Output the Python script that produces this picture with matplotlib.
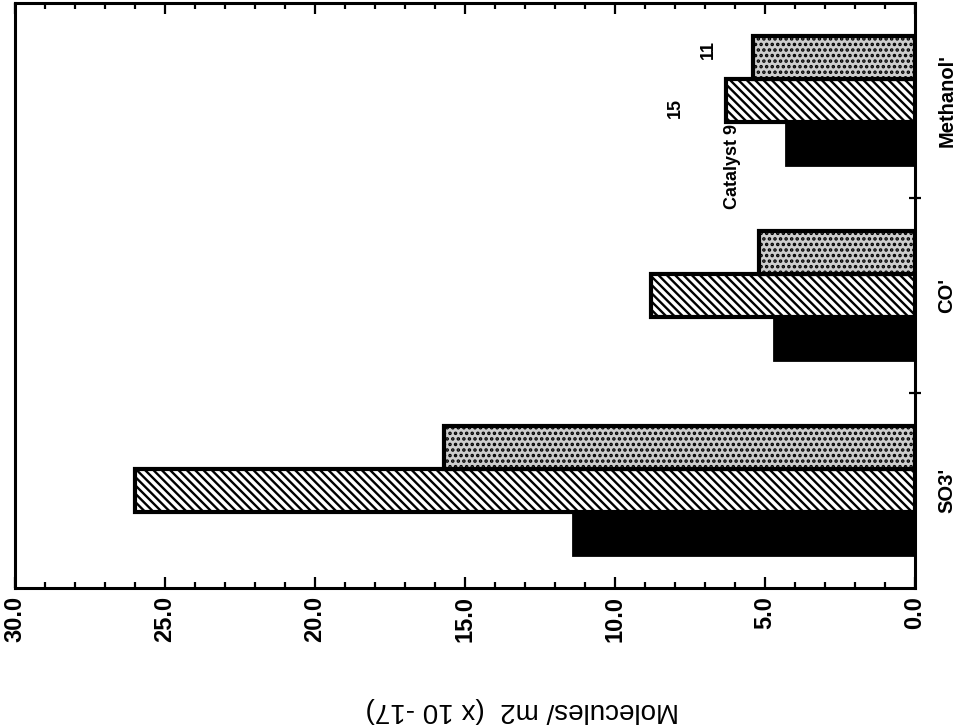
import matplotlib
matplotlib.use("Agg")
import numpy as np
import matplotlib.pyplot as plt
from matplotlib.ticker import MultipleLocator

# values (Molecules/m2 x 10^-17)
categories = ["SO3'", "CO'", "Methanol'"]
catalyst_9 = [11.4, 4.7, 4.3]
catalyst_15 = [26.0, 8.8, 6.3]
catalyst_11 = [15.7, 5.2, 5.4]
series_names = ["Catalyst 9", "15", "11"]
value_ticks = [30.0, 25.0, 20.0, 15.0, 10.0, 5.0, 0.0]

plt.rcParams['font.family'] = ['Liberation Sans', 'DejaVu Sans']
plt.rcParams['hatch.linewidth'] = 1.7


def main():
    fig = plt.figure(figsize=(9.63, 7.27), dpi=100)
    ax = fig.add_axes([15 / 963, 1 - 588 / 727, 900 / 963, 585 / 727])

    pos = np.arange(len(categories))
    h = 0.22

    ax.barh(pos - h, catalyst_9, height=h, color='black', edgecolor='black', linewidth=2)
    ax.barh(pos, catalyst_15, height=h, color='white', edgecolor='black', linewidth=3, hatch='\\\\\\\\')
    ax.barh(pos + h, catalyst_11, height=h, color='#cdcdcd', edgecolor='black', linewidth=3, hatch='...')

    # series labels written next to the Methanol' bars
    last = len(categories) - 1
    ax.text(catalyst_9[last] + 1.8, last - h - 0.12, series_names[0], rotation=90,
            ha='center', va='center', fontsize=13, fontweight='bold')
    ax.text(catalyst_15[last] + 1.7, last - 0.04, series_names[1], rotation=90,
            ha='center', va='center', fontsize=13, fontweight='bold')
    ax.text(catalyst_11[last] + 1.5, last + h + 0.04, series_names[2], rotation=90,
            ha='center', va='center', fontsize=13, fontweight='bold')

    ax.set_xlim(30, 0)
    ax.set_ylim(-0.5, len(categories) - 0.5)

    ax.set_xticks(value_ticks)
    ax.set_xticklabels(['%.1f' % v for v in value_ticks], rotation=90, ha='center', va='top',
                       fontsize=17, fontweight='bold')
    ax.xaxis.set_minor_locator(MultipleLocator(1))
    ax.tick_params(axis='x', which='both', direction='in', top=True, bottom=True, width=1.6, pad=6)
    ax.tick_params(axis='x', which='major', length=8)
    ax.tick_params(axis='x', which='minor', length=4)

    ax.yaxis.tick_right()
    ax.set_yticks([0.5, 1.5])
    ax.set_yticklabels(['', ''])
    ax.set_yticks(pos, minor=True)
    ax.set_yticklabels(categories, minor=True, rotation=90, va='center',
                       fontsize=14.5, fontweight='bold')
    ax.tick_params(axis='y', which='major', length=8, direction='inout', width=1.6)
    ax.tick_params(axis='y', which='minor', length=0, pad=16)

    for spine in ax.spines.values():
        spine.set_linewidth(2.2)

    ax.set_xlabel('Molecules/ m2  (x 10 -17)', rotation=180, fontsize=20, va='center')
    ax.xaxis.set_label_coords((522 - 15) / 900, -(710 - 588) / 585)

    fig.savefig('out.png', dpi=100)


if __name__ == '__main__':
    main()
